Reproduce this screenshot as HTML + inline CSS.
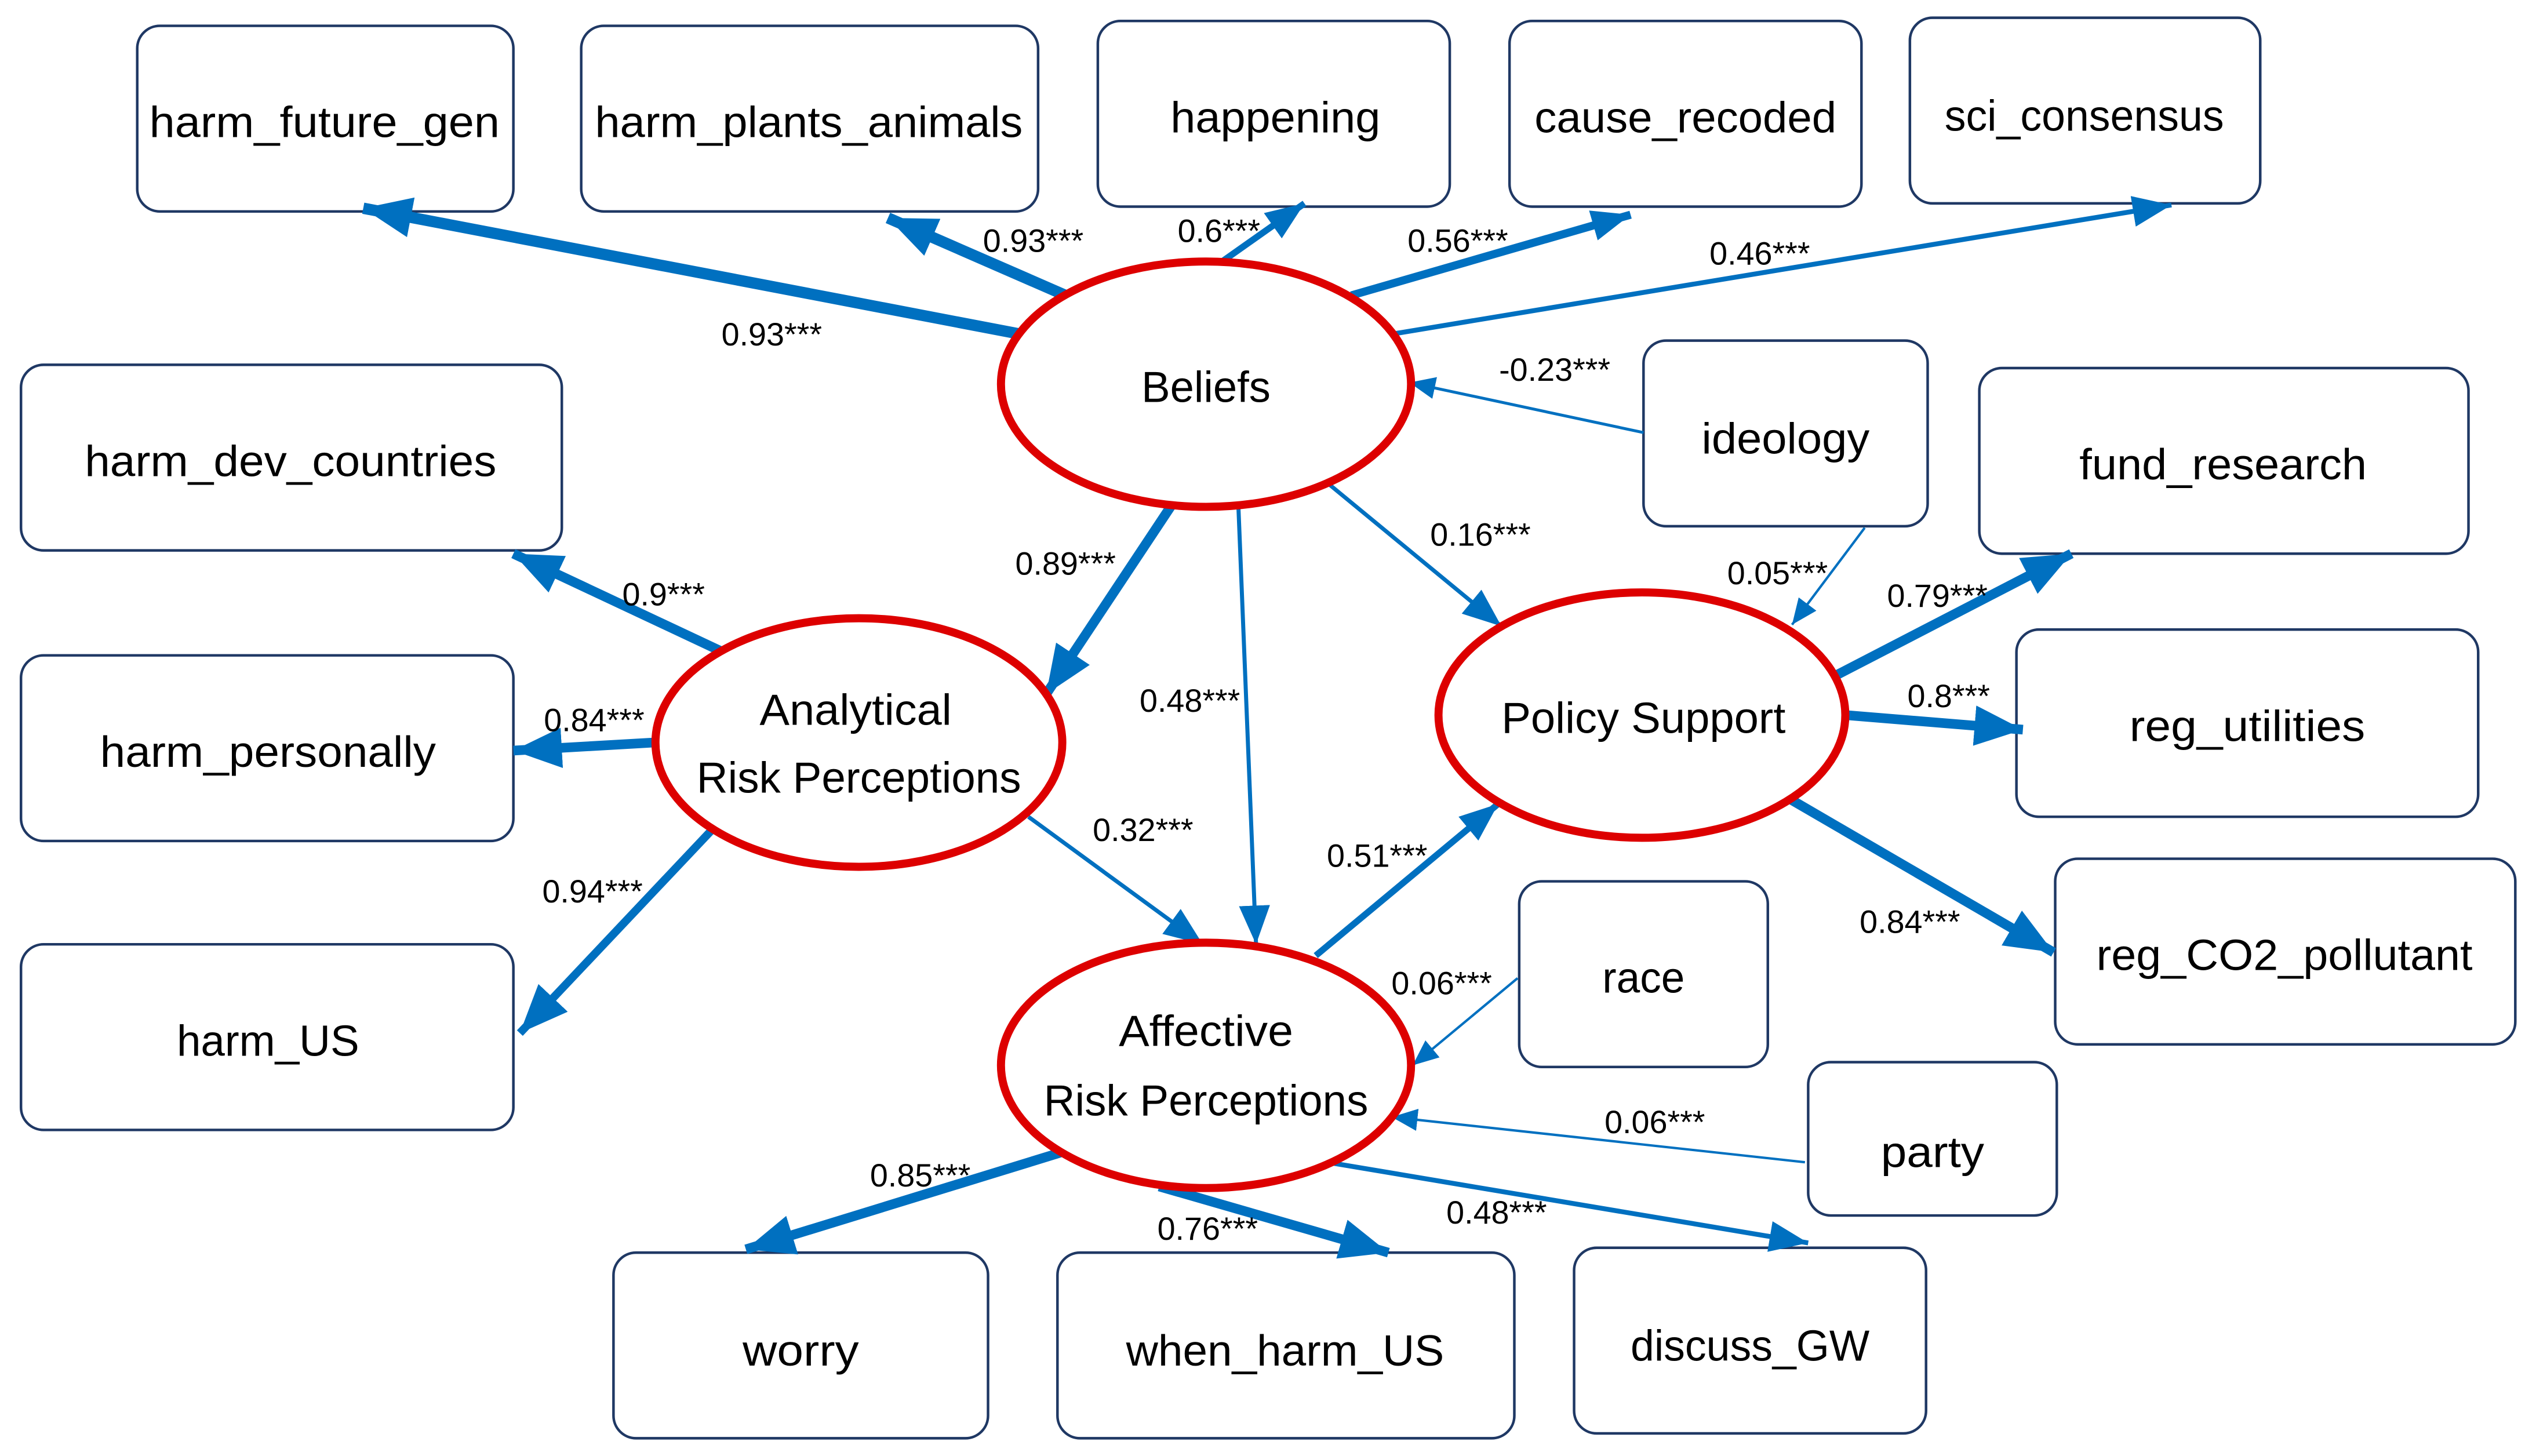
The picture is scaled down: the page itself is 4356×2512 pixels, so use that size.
<!DOCTYPE html>
<html><head><meta charset="utf-8"><style>
html,body{margin:0;padding:0;background:#fff;}
svg{display:block;}
text{font-family:"Liberation Sans",sans-serif;fill:#000;}
.b{font-size:27px;}
.e{font-size:20px;}
</style></head><body>
<svg width="4356" height="2512" viewBox="0 0 1564 902" preserveAspectRatio="none" xmlns="http://www.w3.org/2000/svg">
<defs>
<marker id="big" markerUnits="userSpaceOnUse" markerWidth="30" markerHeight="30" refX="24" refY="10" orient="auto" viewBox="0 0 24 20"><path d="M0,0 L24,10 L0,20 Z" fill="#0070c0"/></marker>
<marker id="med" markerUnits="userSpaceOnUse" markerWidth="24" markerHeight="24" refX="20" refY="8" orient="auto" viewBox="0 0 20 16"><path d="M0,0 L20,8 L0,16 Z" fill="#0070c0"/></marker>
<marker id="sm" markerUnits="userSpaceOnUse" markerWidth="16" markerHeight="16" refX="14" refY="6" orient="auto" viewBox="0 0 14 12"><path d="M0,0 L14,6 L0,12 Z" fill="#0070c0"/></marker>
</defs>
<g fill="#fff" stroke="#1f3864" stroke-width="1.6">
<rect x="85" y="16" width="233" height="115" rx="14"/>
<rect x="360" y="16" width="283" height="115" rx="14"/>
<rect x="680" y="13" width="218" height="115" rx="14"/>
<rect x="935" y="13" width="218" height="115" rx="14"/>
<rect x="1183" y="11" width="217" height="115" rx="14"/>
<rect x="13" y="226" width="335" height="115" rx="14"/>
<rect x="1018" y="211" width="176" height="115" rx="14"/>
<rect x="1226" y="228" width="303" height="115" rx="14"/>
<rect x="13" y="406" width="305" height="115" rx="14"/>
<rect x="1249" y="390" width="286" height="116" rx="14"/>
<rect x="13" y="585" width="305" height="115" rx="14"/>
<rect x="941" y="546" width="154" height="115" rx="14"/>
<rect x="1273" y="532" width="285" height="115" rx="14"/>
<rect x="1120" y="658" width="154" height="95" rx="14"/>
<rect x="380" y="776" width="232" height="115" rx="14"/>
<rect x="655" y="776" width="283" height="115" rx="14"/>
<rect x="975" y="773" width="218" height="115" rx="14"/>
</g>
<g class="b" text-anchor="middle">
<text x="201" y="85" textLength="217" lengthAdjust="spacingAndGlyphs">harm_future_gen</text>
<text x="501" y="85" textLength="265" lengthAdjust="spacingAndGlyphs">harm_plants_animals</text>
<text x="790" y="82" textLength="130" lengthAdjust="spacingAndGlyphs">happening</text>
<text x="1044" y="82" textLength="187" lengthAdjust="spacingAndGlyphs">cause_recoded</text>
<text x="1291" y="81" textLength="173" lengthAdjust="spacingAndGlyphs">sci_consensus</text>
<text x="180" y="295" textLength="255" lengthAdjust="spacingAndGlyphs">harm_dev_countries</text>
<text x="1106" y="281" textLength="104" lengthAdjust="spacingAndGlyphs">ideology</text>
<text x="1377" y="297" textLength="178" lengthAdjust="spacingAndGlyphs">fund_research</text>
<text x="166" y="475" textLength="208" lengthAdjust="spacingAndGlyphs">harm_personally</text>
<text x="1392" y="459" textLength="146" lengthAdjust="spacingAndGlyphs">reg_utilities</text>
<text x="166" y="654" textLength="113" lengthAdjust="spacingAndGlyphs">harm_US</text>
<text x="1018" y="615" textLength="51" lengthAdjust="spacingAndGlyphs">race</text>
<text x="1415" y="601" textLength="233" lengthAdjust="spacingAndGlyphs">reg_CO2_pollutant</text>
<text x="1197" y="723" textLength="64" lengthAdjust="spacingAndGlyphs">party</text>
<text x="496" y="846" textLength="72" lengthAdjust="spacingAndGlyphs">worry</text>
<text x="796" y="846" textLength="197" lengthAdjust="spacingAndGlyphs">when_harm_US</text>
<text x="1084" y="843" textLength="148" lengthAdjust="spacingAndGlyphs">discuss_GW</text>
</g>
<g stroke="#0070c0" fill="none" stroke-linecap="butt">
<line x1="632" y1="207" x2="225" y2="129" stroke-width="7" marker-end="url(#big)"/>
<line x1="660" y1="183" x2="550" y2="135" stroke-width="7" marker-end="url(#big)"/>
<line x1="757" y1="162" x2="808" y2="126" stroke-width="4" marker-end="url(#med)"/>
<line x1="837" y1="183" x2="1010" y2="133" stroke-width="5" marker-end="url(#med)"/>
<line x1="862" y1="207" x2="1345" y2="127" stroke-width="3" marker-end="url(#med)"/>
<line x1="1018" y1="268" x2="873" y2="237" stroke-width="1.8" marker-end="url(#sm)"/>
<line x1="727" y1="311" x2="648" y2="430" stroke-width="6" marker-end="url(#big)"/>
<line x1="767" y1="312" x2="778" y2="585" stroke-width="2.5" marker-end="url(#med)"/>
<line x1="822" y1="299" x2="930" y2="388" stroke-width="2.5" marker-end="url(#med)"/>
<line x1="1155" y1="327" x2="1110" y2="387" stroke-width="1.5" marker-end="url(#sm)"/>
<line x1="450" y1="405" x2="318" y2="343" stroke-width="6" marker-end="url(#big)"/>
<line x1="405" y1="460" x2="318" y2="465" stroke-width="6" marker-end="url(#big)"/>
<line x1="442" y1="513" x2="322" y2="640" stroke-width="5" marker-end="url(#big)"/>
<line x1="637" y1="506" x2="745" y2="585" stroke-width="2.5" marker-end="url(#med)"/>
<line x1="815" y1="592" x2="928" y2="498" stroke-width="4" marker-end="url(#med)"/>
<line x1="1138" y1="418" x2="1283" y2="343" stroke-width="6" marker-end="url(#big)"/>
<line x1="1143" y1="443" x2="1253" y2="452" stroke-width="6" marker-end="url(#big)"/>
<line x1="1107" y1="494" x2="1272" y2="590" stroke-width="6" marker-end="url(#big)"/>
<line x1="940" y1="606" x2="875" y2="660" stroke-width="1.5" marker-end="url(#sm)"/>
<line x1="1118" y1="720" x2="862" y2="692" stroke-width="1.5" marker-end="url(#sm)"/>
<line x1="657" y1="714" x2="462" y2="774" stroke-width="6" marker-end="url(#big)"/>
<line x1="718" y1="735" x2="860" y2="776" stroke-width="6" marker-end="url(#big)"/>
<line x1="822" y1="720" x2="1120" y2="770" stroke-width="3" marker-end="url(#med)"/>
</g>
<g fill="#fff" stroke="#dd0000" stroke-width="5">
<ellipse cx="747" cy="238" rx="127" ry="76"/>
<ellipse cx="532" cy="460" rx="126" ry="77"/>
<ellipse cx="1017" cy="443" rx="126" ry="76"/>
<ellipse cx="747" cy="660" rx="127" ry="76"/>
</g>
<g class="b" text-anchor="middle">
<text x="747" y="249" textLength="80" lengthAdjust="spacingAndGlyphs">Beliefs</text>
<text x="530" y="449" textLength="119" lengthAdjust="spacingAndGlyphs">Analytical</text>
<text x="532" y="491" textLength="201" lengthAdjust="spacingAndGlyphs">Risk Perceptions</text>
<text x="1018" y="454" textLength="176" lengthAdjust="spacingAndGlyphs">Policy Support</text>
<text x="747" y="648" textLength="108" lengthAdjust="spacingAndGlyphs">Affective</text>
<text x="747" y="691" textLength="201" lengthAdjust="spacingAndGlyphs">Risk Perceptions</text>
</g>
<g class="e" text-anchor="middle">
<text x="478" y="214">0.93***</text>
<text x="640" y="156">0.93***</text>
<text x="755" y="150">0.6***</text>
<text x="903" y="156">0.56***</text>
<text x="1090" y="164">0.46***</text>
<text x="963" y="236">-0.23***</text>
<text x="660" y="356">0.89***</text>
<text x="737" y="441">0.48***</text>
<text x="917" y="338">0.16***</text>
<text x="1101" y="362">0.05***</text>
<text x="411" y="375">0.9***</text>
<text x="368" y="453">0.84***</text>
<text x="367" y="559">0.94***</text>
<text x="708" y="521">0.32***</text>
<text x="853" y="537">0.51***</text>
<text x="1200" y="376">0.79***</text>
<text x="1207" y="438">0.8***</text>
<text x="1183" y="578">0.84***</text>
<text x="893" y="616">0.06***</text>
<text x="1025" y="702">0.06***</text>
<text x="570" y="735">0.85***</text>
<text x="748" y="768">0.76***</text>
<text x="927" y="758">0.48***</text>
</g>
</svg>
</body></html>
